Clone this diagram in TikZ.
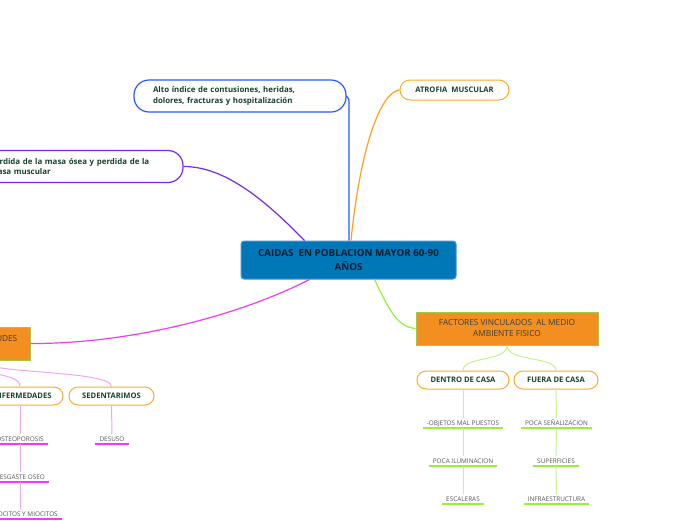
\documentclass[tikz,border=0pt]{standalone}
\usepackage{fontspec}
\setmainfont{Open Sans}
\definecolor{cfill}{RGB}{0,119,182}
\definecolor{cborder}{RGB}{70,150,220}
\definecolor{lblue}{RGB}{40,90,255}
\definecolor{lpurple}{RGB}{120,40,240}
\definecolor{lorange}{RGB}{255,160,30}
\definecolor{lmag}{RGB}{240,60,240}
\definecolor{lpink}{RGB}{240,165,240}
\definecolor{lgreen}{RGB}{150,240,60}
\definecolor{lgreenlt}{RGB}{195,245,140}
\definecolor{forange}{RGB}{243,143,32}
\definecolor{fborder}{RGB}{165,200,70}
\definecolor{porange}{RGB}{250,170,50}
\definecolor{dgreen}{RGB}{25,65,45}
\definecolor{dgray}{RGB}{60,60,60}
\definecolor{mgray}{RGB}{85,85,85}
\begin{document}
\begin{tikzpicture}[x=1pt,y=-1pt,
  topic/.style={line width=1.2pt, rounded corners=15pt, minimum height=32pt, text width=174pt, align=left, inner xsep=19pt, font=\fontsize{7.9}{10.5}\selectfont\bfseries, text=dgreen},
  pill/.style={draw=porange, line width=1pt, rounded corners=9pt, minimum height=18pt, inner sep=0pt, font=\fontsize{7.6}{9}\selectfont\bfseries, text=dgreen},
  obox/.style={fill=forange, draw=fborder, line width=1pt, minimum height=33pt, align=center, font=\fontsize{8.3}{11}\selectfont, text=dgray},
  leaf/.style={font=\fontsize{6.4}{7}\selectfont, text=mgray, inner xsep=4pt, inner ysep=2.5pt, text height=4.5pt, text depth=0pt, anchor=south},
  conn/.style={line width=1.2pt},
  gline/.style={draw=lgreen, line width=1.5pt},
  gthin/.style={draw=lgreenlt, line width=1pt},
  mline/.style={draw=lmag, line width=1.5pt},
  mthin/.style={draw=lpink, line width=1pt}
]
\useasboundingbox (0,0) rectangle (696,520);
\clip (0,0) rectangle (696,520);
\fill[white] (0,0) rectangle (696,520);

% central node
\node[fill=cfill, draw=cborder, line width=1pt, rounded corners=3pt, minimum width=215pt, minimum height=38pt, inner sep=0pt, align=center, font=\fontsize{9.8}{13.5}\selectfont\bfseries, text={rgb,255:red,10;green,30;blue,50}] (C) at (348.5,260) {CAIDAS\ \ EN POBLACION MAYOR 60-90\\AÑOS};

% upper topics
\node[topic, draw=lblue] (alto) at (240,96) {Alto índice de contusiones, heridas,\\dolores, fracturas y hospitalización};
\node[topic, draw=lpurple] (perd) at (77,166.5) {Perdida de la masa ósea y perdida de la\\masa muscular};
\node[pill, minimum width=109pt, minimum height=20pt, rounded corners=10pt] (atro) at (454.5,90) {ATROFIA\ \ MUSCULAR};

% main connectors
\draw[conn, lblue] ([xshift=0.5pt]C.north) -- (349,104) .. controls (349,99) .. (alto.east);
\draw[conn, lorange] ([xshift=2.5pt]C.north) .. controls (360,150) and (380,92) .. (atro.west);
\draw[conn, lpurple] ([xshift=64pt]C.north west) .. controls (265,200) and (225,166.5) .. (perd.east);

% left orange box
\node[obox, minimum width=100pt] (acti) at (-20,343.5) {};
\node[anchor=east, inner sep=0pt, font=\fontsize{8.3}{11}\selectfont, text=dgray] (actitxt) at (17.5,339) {UDES};
\draw[conn, lmag] ([xshift=69pt]C.south west) .. controls (230,320) and (120,344) .. (acti.east);

% left pills
\node[pill, minimum width=83pt] (enf) at (21.5,396) {ENFERMEDADES};
\node[pill, minimum width=85pt] (sed) at (111.5,396) {SEDENTARIMOS};
\draw[mthin] (acti.south) .. controls (-20,378) and (20,372) .. ([xshift=-1.5pt]enf.north);
\draw[mthin] (acti.south) .. controls (-20,374) and (112,370) .. (sed.north);

% left leaves
\node[leaf] (ost) at (20,444) {OSTEOPOROSIS};
\node[leaf] (des) at (20,482) {DESGASTE OSEO};
\node[leaf] (oci) at (20,519) {OSTEOCITOS Y MIOCITOS};
\node[leaf] (dsu) at (112,444) {DESUSO};
\foreach \n in {ost,des,oci,dsu}{\draw[mline] (\n.south west) -- (\n.south east);}
\draw[mthin] ([xshift=-1.5pt]enf.south) -- (ost.north);
\draw[mthin] (ost.south) -- (des.north);
\draw[mthin] (des.south) -- (oci.north);
\draw[mthin] (sed.south) -- (dsu.north);

% right orange box
\node[obox, minimum width=182pt] (fact) at (507,328.5) {FACTORES VINCULADOS\ \ AL MEDIO\\AMBIENTE FISICO};
\draw[conn, lgreen] ([xshift=26pt]C.south) .. controls (390,312) and (398,327) .. (fact.west);

% right pills
\node[pill, minimum width=92pt] (dent) at (463,380) {DENTRO DE CASA};
\node[pill, minimum width=84pt] (fuer) at (556,380) {FUERA DE CASA};
\draw[gthin] (fact.south) .. controls (507,362) and (463,356) .. (dent.north);
\draw[gthin] (fact.south) .. controls (507,362) and (556,356) .. (fuer.north);

% right leaves
\node[leaf] (obj) at (463,428) {-OBJETOS MAL PUESTOS};
\node[leaf] (ilu) at (463,466) {POCA ILUMINACION};
\node[leaf] (esc) at (463,504) {ESCALERAS};
\node[leaf] (sen) at (556.5,428) {POCA SEÑALIZACION};
\node[leaf] (sup) at (556,466) {SUPERFICIES};
\node[leaf] (inf) at (556.5,504) {INFRAESTRUCTURA};
\foreach \n in {obj,ilu,esc,sen,sup,inf}{\draw[gline] (\n.south west) -- (\n.south east);}
\draw[gthin] (dent.south) -- (obj.north);
\draw[gthin] (obj.south) -- (ilu.north);
\draw[gthin] (ilu.south) -- (esc.north);
\draw[gthin] (fuer.south) -- (sen.north);
\draw[gthin] (sen.south) -- (sup.north);
\draw[gthin] (sup.south) -- (inf.north);
\end{tikzpicture}
\end{document}
